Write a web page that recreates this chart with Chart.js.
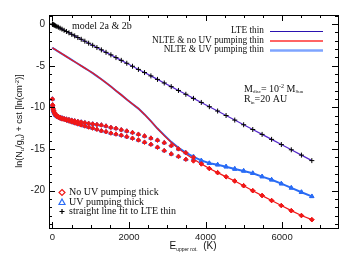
<!DOCTYPE html>
<html>
<head>
<meta charset="utf-8">
<script src="https://cdn.jsdelivr.net/npm/chart.js@4.4.0/dist/chart.umd.min.js"></script>
<style>
  html, body { margin: 0; padding: 0; background: #fff; }
  #wrap { width: 352px; height: 259px; }
</style>
</head>
<body>
<div id="wrap"><canvas id="chart" width="352" height="259"></canvas></div>
<script>
// upper level energies (K), J = 0 .. 49
const energies = [0, 5.5, 16.6, 33.2, 55.3, 83, 116.2, 154.9, 199.2, 248.9,
  304.3, 365.1, 431.5, 503.4, 580.9, 663.8, 752.4, 846.4, 946, 1051,
  1161.7, 1278, 1399.6, 1526.8, 1659.6, 1798, 1942, 2091, 2246, 2406,
  2572, 2744, 2921, 3103, 3292, 3485, 3684, 3889, 4099, 4315,
  4536, 4763, 4995, 5233, 5477, 5725, 5980, 6240, 6505, 6776];

const lteThin = [0, -0.01, -0.04, -0.08, -0.13, -0.2, -0.28, -0.37, -0.48, -0.6,
  -0.74, -0.88, -1.04, -1.22, -1.41, -1.61, -1.82, -2.05, -2.29, -2.54,
  -2.81, -3.09, -3.39, -3.69, -4.02, -4.35, -4.7, -5.06, -5.44, -5.82,
  -6.22, -6.64, -7.07, -7.51, -7.97, -8.43, -8.92, -9.41, -9.92, -10.44,
  -10.98, -11.53, -12.09, -12.66, -13.25, -13.85, -14.47, -15.1, -15.74, -16.4];

const noUvThin = [-2.84, -2.86, -2.89, -2.94, -3.0, -3.08, -3.18, -3.29, -3.42, -3.56,
  -3.72, -3.9, -4.09, -4.3, -4.52, -4.76, -5.01, -5.28, -5.57, -5.88,
  -6.24, -6.62, -7.05, -7.5, -8.0, -8.5, -9.05, -9.6, -10.15, -10.85,
  -11.65, -12.55, -13.4, -14.2, -14.95, -15.6, -16.2, -16.8, -17.35, -17.85,
  -18.35, -18.85, -19.42, -20.02, -20.6, -21.2, -21.8, -22.42, -23.0, -23.5];

const uvThin = [-2.84, -2.86, -2.89, -2.94, -3.0, -3.08, -3.18, -3.29, -3.42, -3.56,
  -3.72, -3.9, -4.09, -4.3, -4.52, -4.76, -5.01, -5.28, -5.57, -5.88,
  -6.24, -6.62, -7.05, -7.5, -8.0, -8.5, -9.05, -9.6, -10.15, -10.85,
  -11.65, -12.55, -13.35, -14.15, -14.85, -15.45, -15.95, -16.38, -16.72, -16.89,
  -17.13, -17.4, -17.64, -17.92, -18.32, -18.7, -19.17, -19.68, -20.2, -20.7];

// optically thick, two line branches per upper level
const noUvThickA = [-9.0, -9.7, -10.1, -10.4, -10.65, -10.85, -11.0, -11.1, -11.2, -11.28,
  -11.35, -11.42, -11.48, -11.55, -11.62, -11.7, -11.77, -11.85, -11.93, -12.0,
  -12.07, -12.13, -12.25, -12.42, -12.53, -12.7, -12.85, -13.03, -13.24, -13.45,
  -13.7, -13.95, -14.25, -14.6, -15.0, -15.45, -16.0, -16.8, -17.35, -17.85,
  -18.35, -18.85, -19.42, -20.02, -20.6, -21.2, -21.8, -22.42, -23.0, -23.5];

const noUvThickB = [null, -9.8, -10.2, -10.5, -10.75, -10.95, -11.1, -11.2, -11.3, -11.4,
  -11.45, -11.55, -11.65, -11.76, -11.88, -12.0, -12.12, -12.25, -12.38, -12.5,
  -12.65, -12.82, -12.93, -13.1, -13.22, -13.35, -13.53, -13.72, -13.93, -14.2,
  -14.45, -14.8, -15.2, -15.6, -15.9, -16.25, -16.45, -16.8, -17.35, -17.85,
  -18.35, -18.85, -19.42, -20.02, -20.6, -21.2, -21.8, -22.42, -23.0, -23.5];

const uvThickA = [-9.0, -9.7, -10.1, -10.4, -10.65, -10.85, -11.0, -11.1, -11.2, -11.28,
  -11.35, -11.42, -11.48, -11.55, -11.62, -11.7, -11.77, -11.85, -11.93, -12.0,
  -12.07, -12.13, -12.25, -12.42, -12.53, -12.7, -12.85, -13.03, -13.24, -13.45,
  -13.7, -13.95, -14.25, -14.6, -15.0, -15.45, -15.9, -16.38, -16.72, -16.89,
  -17.13, -17.4, -17.64, -17.92, -18.32, -18.7, -19.17, -19.68, -20.2, -20.7];

const uvThickB = [null, -9.8, -10.2, -10.5, -10.75, -10.95, -11.1, -11.2, -11.3, -11.4,
  -11.45, -11.55, -11.65, -11.76, -11.88, -12.0, -12.12, -12.25, -12.38, -12.5,
  -12.65, -12.82, -12.93, -13.1, -13.22, -13.35, -13.53, -13.72, -13.93, -14.2,
  -14.45, -14.8, -15.2, -15.6, -15.9, -16.25, -16.2, -16.45, -16.72, -16.89,
  -17.13, -17.4, -17.64, -17.92, -18.32, -18.7, -19.17, -19.68, -20.2, -20.7];

const xTickLabels = [0, 2000, 4000, 6000];
const yTickLabels = [-20, -15, -10, -5, 0];

const RED = '#f01818';
const BLUE = '#2a6cf5';
const LTE_COLOR = '#5428c8';

function points(ys) {
    return energies.map((x, i) => ({ x: x, y: ys[i] })).filter(p => p.y !== null);
}

// draw a run of text pieces (sub/superscripts) starting at x
function drawRich(ctx, parts, x, y, align) {
    let total = 0;
    parts.forEach(p => {
        ctx.font = p.font;
        total += ctx.measureText(p.t).width;
    });
    let cx = align === 'right' ? x - total : (align === 'center' ? x - total / 2 : x);
    parts.forEach(p => {
        ctx.font = p.font;
        ctx.fillText(p.t, cx, y + (p.dy || 0));
        cx += ctx.measureText(p.t).width;
    });
}

const annotations = {
    id: 'annotations',
    afterDraw(chart) {
        const { ctx, chartArea: a, scales } = chart;
        const xs = scales.x, ys = scales.y;
        ctx.save();

        // frame
        ctx.strokeStyle = '#000';
        ctx.lineWidth = 1;
        ctx.strokeRect(Math.round(a.left) + 0.5, Math.round(a.top) + 0.5,
            Math.round(a.right - a.left), Math.round(a.bottom - a.top));

        // inward ticks on all four sides
        ctx.beginPath();
        for (let v = 0; v <= 7000; v += 500) {
            const px = Math.round(xs.getPixelForValue(v)) + 0.5;
            const len = v % 2000 === 0 ? 6 : 3;
            ctx.moveTo(px, a.bottom); ctx.lineTo(px, a.bottom - len);
            ctx.moveTo(px, a.top); ctx.lineTo(px, a.top + len);
        }
        for (let v = -24; v <= 1; v += 1) {
            const py = Math.round(ys.getPixelForValue(v)) + 0.5;
            const len = v % 5 === 0 ? 6 : 3;
            ctx.moveTo(a.left, py); ctx.lineTo(a.left + len, py);
            ctx.moveTo(a.right, py); ctx.lineTo(a.right - len, py);
        }
        ctx.stroke();

        ctx.fillStyle = '#111';
        ctx.textBaseline = 'middle';
        const serif = 'Liberation Serif';
        const sans = 'Liberation Sans';

        // model label
        ctx.textAlign = 'left';
        ctx.font = `10px "${serif}"`;
        ctx.fillText('model 2a & 2b', 72, 26);

        // top right legend
        const topRows = [
            { t: 'LTE thin', c: '#2a12b0', w: 1.2, y: 31 },
            { t: 'NLTE & no UV pumping thin', c: '#ff3030', w: 1.5, y: 40.5 },
            { t: 'NLTE & UV pumping thin', c: '#7ea4ff', w: 2.5, y: 50 }
        ];
        topRows.forEach(r => {
            ctx.textAlign = 'right';
            ctx.font = `9.3px "${serif}"`;
            ctx.fillText(r.t, 264, r.y);
            ctx.beginPath();
            ctx.strokeStyle = r.c;
            ctx.lineWidth = r.w;
            ctx.moveTo(270, r.y + 0.5);
            ctx.lineTo(323, r.y + 0.5);
            ctx.stroke();
        });

        // disc parameters
        ctx.textAlign = 'left';
        const f10 = `10px "${serif}"`, f5 = `5px "${serif}"`, f6 = `6px "${serif}"`;
        drawRich(ctx, [
            { t: 'M', font: f10 }, { t: 'disc', font: f5, dy: 3 }, { t: '= 10', font: f10 },
            { t: '-2', font: f6, dy: -3 }, { t: ' M', font: f10 }, { t: 'Sun', font: f5, dy: 3 }
        ], 244, 89, 'left');
        drawRich(ctx, [
            { t: 'R', font: f10 }, { t: 'in', font: f5, dy: 3 }, { t: '=20 AU', font: f10 }
        ], 244, 99.5, 'left');

        // bottom left legend
        const botRows = [
            { t: 'No UV pumping thick', y: 192.5, s: 'diamond' },
            { t: 'UV pumping thick', y: 202, s: 'triangle' },
            { t: 'straight line fit to LTE thin', y: 211.5, s: 'plus' }
        ];
        botRows.forEach(r => {
            const mx = 62, my = r.y;
            ctx.beginPath();
            ctx.lineWidth = 1.2;
            if (r.s === 'diamond') {
                ctx.strokeStyle = RED;
                ctx.moveTo(mx, my - 3); ctx.lineTo(mx + 3, my); ctx.lineTo(mx, my + 3); ctx.lineTo(mx - 3, my); ctx.closePath();
            } else if (r.s === 'triangle') {
                ctx.strokeStyle = BLUE;
                ctx.moveTo(mx, my - 3); ctx.lineTo(mx + 3, my + 2.5); ctx.lineTo(mx - 3, my + 2.5); ctx.closePath();
            } else {
                ctx.strokeStyle = '#000';
                ctx.moveTo(mx - 2.5, my); ctx.lineTo(mx + 2.5, my);
                ctx.moveTo(mx, my - 2.5); ctx.lineTo(mx, my + 2.5);
            }
            ctx.stroke();
            ctx.font = `10px "${serif}"`;
            ctx.fillText(r.t, 69, r.y);
        });

        // x axis title
        const s10 = `10px "${sans}"`, s5 = `5px "${sans}"`, s7 = `6px "${sans}"`;
        drawRich(ctx, [
            { t: 'E', font: s10 }, { t: 'upper rot.', font: s5, dy: 4 }, { t: '  (K)', font: s10 }
        ], 193, 246, 'center');

        // y axis title
        ctx.translate(20, 121);
        ctx.rotate(-Math.PI / 2);
        const s9 = `9px "${sans}"`;
        drawRich(ctx, [
            { t: 'ln(N', font: s9 }, { t: 'u', font: s7, dy: 2.5 }, { t: '/g', font: s9 },
            { t: 'u', font: s7, dy: 2.5 }, { t: ') + cst [ln(cm', font: s9 },
            { t: '-2', font: s7, dy: -3 }, { t: ')]', font: s9 }
        ], 0, 0, 'center');

        ctx.restore();
    }
};

const chart = new Chart(document.getElementById('chart').getContext('2d'), {
    type: 'scatter',
    data: {
        datasets: [
            { label: 'UV pumping thick', data: points(uvThickA), pointStyle: 'triangle', pointRadius: 2.4,
              borderColor: BLUE, backgroundColor: BLUE, borderWidth: 1, order: 3 },
            { label: 'UV pumping thick B', data: points(uvThickB), pointStyle: 'triangle', pointRadius: 2.4,
              borderColor: BLUE, backgroundColor: BLUE, borderWidth: 1, order: 3 },
            { label: 'No UV pumping thick', data: points(noUvThickA), pointStyle: 'rectRot', pointRadius: 2.2,
              borderColor: RED, backgroundColor: RED, borderWidth: 1, order: 2 },
            { label: 'No UV pumping thick B', data: points(noUvThickB), pointStyle: 'rectRot', pointRadius: 2.2,
              borderColor: RED, backgroundColor: RED, borderWidth: 1, order: 2 },
            { label: 'NLTE & UV pumping thin', data: points(uvThin), showLine: true, pointRadius: 0,
              borderColor: BLUE, borderWidth: 2, order: 6 },
            { label: 'NLTE & no UV pumping thin', data: points(noUvThin), showLine: true, pointRadius: 0,
              borderColor: RED, borderWidth: 1.3, order: 5 },
            { label: 'LTE thin', data: points(lteThin), showLine: true, pointRadius: 0,
              borderColor: LTE_COLOR, borderWidth: 1.2, order: 4 },
            { label: 'straight line fit to LTE thin', data: points(lteThin), pointStyle: 'cross', pointRadius: 2.5,
              borderColor: '#000', borderWidth: 1, order: 1 }
        ]
    },
    options: {
        responsive: false,
        animation: false,
        layout: { padding: { left: 0, top: 15, right: 14, bottom: 0 } },
        plugins: { legend: { display: false }, tooltip: { enabled: false } },
        scales: {
            x: {
                type: 'linear',
                min: -90,
                max: 7460,
                grid: { display: false, drawTicks: false },
                border: { display: false },
                afterBuildTicks: s => { s.ticks = xTickLabels.map(v => ({ value: v })); },
                afterFit: s => { s.height = 31; },
                ticks: { padding: 4, color: '#222', maxRotation: 0, callback: v => String(v),
                         font: { family: 'Liberation Sans', size: 9.5 } }
            },
            y: {
                min: -24.5,
                max: 1.1,
                grid: { display: false, drawTicks: false },
                border: { display: false },
                afterBuildTicks: s => { s.ticks = yTickLabels.map(v => ({ value: v })); },
                afterFit: s => { s.width = 49; },
                ticks: { padding: 4, color: '#222', callback: v => String(v),
                         font: { family: 'Liberation Sans', size: 10 } }
            }
        }
    },
    plugins: [annotations]
});
</script>
</body>
</html>
